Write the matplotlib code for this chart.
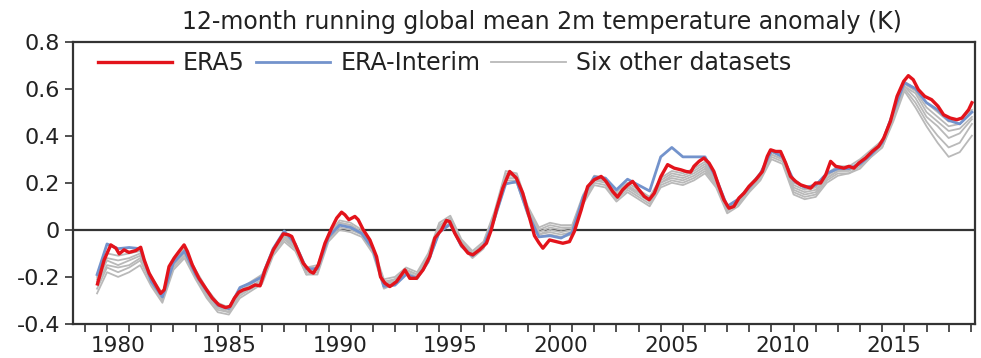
import matplotlib
matplotlib.use("Agg")
import matplotlib.pyplot as plt
from matplotlib.ticker import FixedLocator, MultipleLocator

plt.rcParams['font.family'] = ['DejaVu Sans']

title = "12-month running global mean 2m temperature anomaly (K)"
labels = ["ERA5", "ERA-Interim", "Six other datasets"]

era5_years = [
    1979.57, 1979.87, 1980.17, 1980.40, 1980.55, 1980.77, 1980.99, 1981.30, 1981.52, 1981.68,
    1981.90, 1982.20, 1982.42, 1982.58, 1982.80, 1983.03, 1983.25, 1983.48, 1983.63, 1983.85,
    1984.15, 1984.45, 1984.75, 1985.05, 1985.35, 1985.55, 1985.75, 1985.95, 1986.15, 1986.40,
    1986.69, 1986.91, 1987.14, 1987.51, 1987.74, 1987.96, 1988.19, 1988.34, 1988.57, 1988.86,
    1989.17, 1989.32, 1989.54, 1989.84, 1990.14, 1990.37, 1990.59, 1990.74, 1990.92, 1991.19,
    1991.34, 1991.57, 1991.87, 1992.17, 1992.35, 1992.55, 1992.77, 1993.07, 1993.45, 1993.67,
    1993.97, 1994.27, 1994.57, 1994.80, 1995.10, 1995.32, 1995.47, 1995.70, 1996.00, 1996.30,
    1996.52, 1996.82, 1997.13, 1997.35, 1997.58, 1997.87, 1998.18, 1998.48, 1998.77, 1999.08,
    1999.30, 1999.50, 1999.68, 1999.98, 2000.28, 2000.58, 2000.88, 2001.10, 2001.41, 2001.70,
    2002.00, 2002.31, 2002.53, 2002.83, 2003.05, 2003.28, 2003.51, 2003.73, 2003.96, 2004.26,
    2004.48, 2004.71, 2005.01, 2005.31, 2005.61, 2005.91, 2006.14, 2006.35, 2006.50, 2006.73,
    2006.95, 2007.18, 2007.40, 2007.63, 2007.85, 2008.08, 2008.30, 2008.53, 2008.76, 2008.98,
    2009.29, 2009.59, 2009.81, 2009.96, 2010.19, 2010.41, 2010.64, 2010.86, 2011.09, 2011.32,
    2011.55, 2011.77, 2011.99, 2012.22, 2012.45, 2012.67, 2012.90, 2013.27, 2013.50, 2013.72,
    2013.95, 2014.25, 2014.55, 2014.84, 2015.07, 2015.37, 2015.67, 2015.97, 2016.18, 2016.40,
    2016.63, 2016.92, 2017.23, 2017.52, 2017.77, 2018.07, 2018.37, 2018.60, 2018.90, 2019.05,
]
era5 = [
    -0.230, -0.128, -0.064, -0.078, -0.102, -0.085, -0.096, -0.088, -0.074, -0.128,
    -0.184, -0.234, -0.270, -0.255, -0.156, -0.120, -0.092, -0.064, -0.092, -0.149,
    -0.206, -0.248, -0.290, -0.319, -0.330, -0.325, -0.290, -0.265, -0.255, -0.248,
    -0.234, -0.238, -0.170, -0.085, -0.050, -0.017, -0.021, -0.028, -0.078, -0.142,
    -0.177, -0.184, -0.149, -0.057, 0.007, 0.050, 0.075, 0.064, 0.043, 0.057,
    0.043, 0.000, -0.043, -0.114, -0.200, -0.227, -0.241, -0.220, -0.170, -0.206,
    -0.206, -0.170, -0.114, -0.035, 0.000, 0.040, 0.035, -0.014, -0.064, -0.099,
    -0.106, -0.085, -0.057, 0.000, 0.085, 0.177, 0.248, 0.220, 0.156, 0.050,
    -0.025, -0.055, -0.078, -0.043, -0.050, -0.057, -0.050, -0.007, 0.085, 0.184,
    0.213, 0.227, 0.206, 0.163, 0.139, 0.170, 0.191, 0.206, 0.177, 0.142,
    0.128, 0.156, 0.227, 0.277, 0.262, 0.255, 0.248, 0.245, 0.270, 0.291,
    0.305, 0.284, 0.248, 0.184, 0.128, 0.092, 0.099, 0.135, 0.156, 0.184,
    0.213, 0.248, 0.312, 0.340, 0.333, 0.333, 0.284, 0.227, 0.206, 0.191,
    0.184, 0.177, 0.199, 0.199, 0.234, 0.291, 0.270, 0.262, 0.270, 0.262,
    0.284, 0.305, 0.333, 0.355, 0.390, 0.461, 0.567, 0.631, 0.655, 0.638,
    0.596, 0.567, 0.553, 0.525, 0.489, 0.475, 0.468, 0.475, 0.510, 0.540,
]

grid_years = [
    1979.55, 1980.0, 1980.5, 1981.0, 1981.5, 1982.0, 1982.5, 1983.0, 1983.5, 1984.0,
    1984.5, 1985.0, 1985.5, 1986.0, 1986.5, 1987.0, 1987.5, 1988.0, 1988.5, 1989.0,
    1989.5, 1990.0, 1990.5, 1991.0, 1991.5, 1992.0, 1992.5, 1993.0, 1993.5, 1994.0,
    1994.5, 1995.0, 1995.5, 1996.0, 1996.5, 1997.0, 1997.5, 1998.0, 1998.5, 1999.0,
    1999.5, 2000.0, 2000.5, 2001.0, 2001.5, 2002.0, 2002.5, 2003.0, 2003.5, 2004.0,
    2004.5, 2005.0, 2005.5, 2006.0, 2006.5, 2007.0, 2007.5, 2008.0, 2008.5, 2009.0,
    2009.5, 2010.0, 2010.5, 2011.0, 2011.5, 2012.0, 2012.5, 2013.0, 2013.5, 2014.0,
    2014.5, 2015.0, 2015.5, 2016.0, 2016.5, 2017.0, 2017.5, 2018.0, 2018.5, 2019.05,
]

era_interim = [
    -0.19, -0.06, -0.08, -0.075, -0.08, -0.22, -0.285, -0.14, -0.09, -0.19,
    -0.26, -0.32, -0.335, -0.245, -0.225, -0.20, -0.08, -0.005, -0.06, -0.165,
    -0.165, -0.03, 0.02, 0.01, -0.015, -0.08, -0.24, -0.235, -0.19, -0.205,
    -0.135, -0.01, 0.025, -0.07, -0.11, -0.07, 0.05, 0.195, 0.205, 0.07,
    -0.03, -0.025, -0.035, -0.01, 0.14, 0.225, 0.22, 0.17, 0.215, 0.19,
    0.165, 0.31, 0.35, 0.31, 0.31, 0.31, 0.22, 0.10, 0.13, 0.18,
    0.24, 0.335, 0.31, 0.21, 0.18, 0.19, 0.24, 0.26, 0.26, 0.28,
    0.32, 0.37, 0.50, 0.625, 0.60, 0.54, 0.51, 0.465, 0.45, 0.50,
]

other1 = [
    -0.20, -0.10, -0.11, -0.10, -0.09, -0.20, -0.27, -0.13, -0.08, -0.17,
    -0.25, -0.31, -0.33, -0.25, -0.22, -0.19, -0.08, -0.01, -0.06, -0.16,
    -0.15, -0.02, 0.04, 0.03, 0.00, -0.07, -0.21, -0.20, -0.16, -0.18,
    -0.10, 0.03, 0.06, -0.04, -0.09, -0.05, 0.08, 0.25, 0.24, 0.10,
    0.01, 0.03, 0.02, 0.02, 0.15, 0.23, 0.22, 0.16, 0.20, 0.17,
    0.14, 0.22, 0.25, 0.24, 0.26, 0.29, 0.22, 0.10, 0.13, 0.19,
    0.24, 0.34, 0.32, 0.20, 0.18, 0.19, 0.24, 0.27, 0.27, 0.30,
    0.34, 0.38, 0.50, 0.63, 0.60, 0.54, 0.50, 0.46, 0.47, 0.51,
]
other2 = [
    -0.21, -0.12, -0.13, -0.12, -0.10, -0.21, -0.28, -0.14, -0.09, -0.18,
    -0.26, -0.32, -0.34, -0.26, -0.23, -0.20, -0.09, -0.02, -0.07, -0.17,
    -0.16, -0.03, 0.03, 0.02, -0.01, -0.08, -0.22, -0.21, -0.17, -0.19,
    -0.11, 0.02, 0.05, -0.05, -0.10, -0.06, 0.07, 0.24, 0.23, 0.09,
    0.00, 0.02, 0.01, 0.01, 0.14, 0.22, 0.21, 0.15, 0.19, 0.16,
    0.13, 0.21, 0.24, 0.23, 0.25, 0.28, 0.21, 0.09, 0.12, 0.18,
    0.23, 0.33, 0.31, 0.19, 0.17, 0.18, 0.23, 0.26, 0.26, 0.29,
    0.33, 0.37, 0.49, 0.62, 0.59, 0.52, 0.48, 0.44, 0.45, 0.50,
]
other3 = [
    -0.22, -0.13, -0.15, -0.13, -0.11, -0.22, -0.29, -0.15, -0.09, -0.19,
    -0.27, -0.33, -0.34, -0.27, -0.24, -0.21, -0.09, -0.03, -0.07, -0.17,
    -0.17, -0.03, 0.03, 0.02, -0.01, -0.08, -0.23, -0.21, -0.17, -0.19,
    -0.12, 0.01, 0.05, -0.05, -0.10, -0.06, 0.07, 0.23, 0.23, 0.09,
    -0.01, 0.01, 0.00, 0.01, 0.14, 0.21, 0.21, 0.15, 0.18, 0.16,
    0.13, 0.20, 0.23, 0.22, 0.24, 0.27, 0.20, 0.09, 0.12, 0.18,
    0.23, 0.32, 0.30, 0.18, 0.16, 0.17, 0.22, 0.25, 0.26, 0.28,
    0.33, 0.37, 0.49, 0.61, 0.58, 0.50, 0.46, 0.42, 0.43, 0.48,
]
other4 = [
    -0.23, -0.15, -0.16, -0.15, -0.12, -0.22, -0.30, -0.15, -0.10, -0.19,
    -0.28, -0.33, -0.35, -0.27, -0.25, -0.22, -0.10, -0.03, -0.08, -0.18,
    -0.17, -0.04, 0.02, 0.01, -0.02, -0.09, -0.23, -0.22, -0.18, -0.20,
    -0.12, 0.01, 0.04, -0.06, -0.11, -0.07, 0.06, 0.22, 0.22, 0.08,
    -0.02, 0.00, -0.01, 0.00, 0.13, 0.21, 0.20, 0.14, 0.18, 0.15,
    0.12, 0.20, 0.22, 0.21, 0.23, 0.26, 0.20, 0.08, 0.11, 0.17,
    0.22, 0.32, 0.30, 0.17, 0.15, 0.16, 0.22, 0.25, 0.25, 0.28,
    0.32, 0.36, 0.48, 0.61, 0.56, 0.48, 0.44, 0.39, 0.41, 0.47,
]
other5 = [
    -0.25, -0.16, -0.18, -0.16, -0.13, -0.23, -0.30, -0.16, -0.11, -0.20,
    -0.28, -0.34, -0.35, -0.28, -0.25, -0.22, -0.10, -0.04, -0.08, -0.19,
    -0.18, -0.04, 0.01, 0.00, -0.02, -0.09, -0.24, -0.22, -0.18, -0.20,
    -0.13, 0.00, 0.03, -0.06, -0.11, -0.07, 0.05, 0.21, 0.21, 0.07,
    -0.02, -0.01, -0.02, -0.01, 0.12, 0.20, 0.19, 0.13, 0.17, 0.14,
    0.11, 0.19, 0.21, 0.20, 0.22, 0.25, 0.19, 0.08, 0.11, 0.17,
    0.22, 0.31, 0.29, 0.16, 0.14, 0.15, 0.21, 0.24, 0.24, 0.27,
    0.31, 0.35, 0.47, 0.60, 0.54, 0.46, 0.40, 0.35, 0.37, 0.45,
]
other6 = [
    -0.27, -0.18, -0.20, -0.18, -0.15, -0.24, -0.31, -0.17, -0.12, -0.21,
    -0.29, -0.35, -0.36, -0.29, -0.26, -0.23, -0.11, -0.05, -0.09, -0.19,
    -0.19, -0.05, 0.00, -0.01, -0.03, -0.10, -0.25, -0.23, -0.19, -0.21,
    -0.14, -0.01, 0.02, -0.07, -0.12, -0.08, 0.04, 0.20, 0.20, 0.06,
    -0.03, -0.02, -0.03, -0.02, 0.11, 0.19, 0.18, 0.12, 0.16, 0.13,
    0.10, 0.18, 0.20, 0.19, 0.21, 0.24, 0.18, 0.07, 0.10, 0.16,
    0.21, 0.30, 0.28, 0.15, 0.13, 0.14, 0.20, 0.23, 0.24, 0.26,
    0.31, 0.35, 0.46, 0.59, 0.52, 0.44, 0.37, 0.31, 0.33, 0.40,
]
others = [other1, other2, other3, other4, other5, other6]

y_ticks = [-0.4, -0.2, 0.0, 0.2, 0.4, 0.6, 0.8]
y_tick_labels = ["-0.4", "-0.2", "0", "0.2", "0.4", "0.6", "0.8"]
x_label_years = [1980, 1985, 1990, 1995, 2000, 2005, 2010, 2015]

RED = "#e3131b"
BLUE = "#7393cc"
GRAY = "#b9b9b9"
AXC = "#333333"

fig = plt.figure(figsize=(9.81, 3.58), dpi=100)
ax = fig.add_axes([0.0741, 0.095, 0.9198, 0.789])

ax.axhline(0, color=AXC, lw=1.6, zorder=1)
gray_handle = None
for s in others:
    gray_handle, = ax.plot(grid_years, s, color=GRAY, lw=1.3, zorder=2)
blue_handle, = ax.plot(grid_years, era_interim, color=BLUE, lw=2.0, zorder=3)
red_handle, = ax.plot(era5_years, era5, color=RED, lw=2.4, zorder=4)

ax.set_xlim(1978.45, 2019.19)
ax.set_ylim(-0.4, 0.8)
ax.set_yticks(y_ticks)
ax.set_yticklabels(y_tick_labels)
ax.xaxis.set_major_locator(FixedLocator([y + 0.5 for y in x_label_years]))
ax.set_xticklabels([str(y) for y in x_label_years])
ax.xaxis.set_minor_locator(MultipleLocator(1))
ax.tick_params(axis='x', which='major', length=0, pad=9, labelsize=15.5, colors='#222222')
ax.tick_params(axis='x', which='minor', length=6, width=1.2, color=AXC)
ax.tick_params(axis='y', which='major', length=6, width=1.2, pad=3, labelsize=16,
               color=AXC, labelcolor='#222222')
for sp in ax.spines.values():
    sp.set_color(AXC)
    sp.set_linewidth(1.6)

fig.text(542 / 981, 1 - 29.3 / 358, title, ha='center', va='baseline',
         fontsize=17, color='#222222')

leg = ax.legend([red_handle, blue_handle, gray_handle], labels, ncol=3,
                loc='center left', bbox_to_anchor=(0.015, 0.924), frameon=False,
                borderpad=0, handlelength=3.15, handletextpad=0.45, columnspacing=0.45,
                fontsize=17)
for t in leg.get_texts():
    t.set_color('#222222')

fig.savefig("out.png", dpi=100)
